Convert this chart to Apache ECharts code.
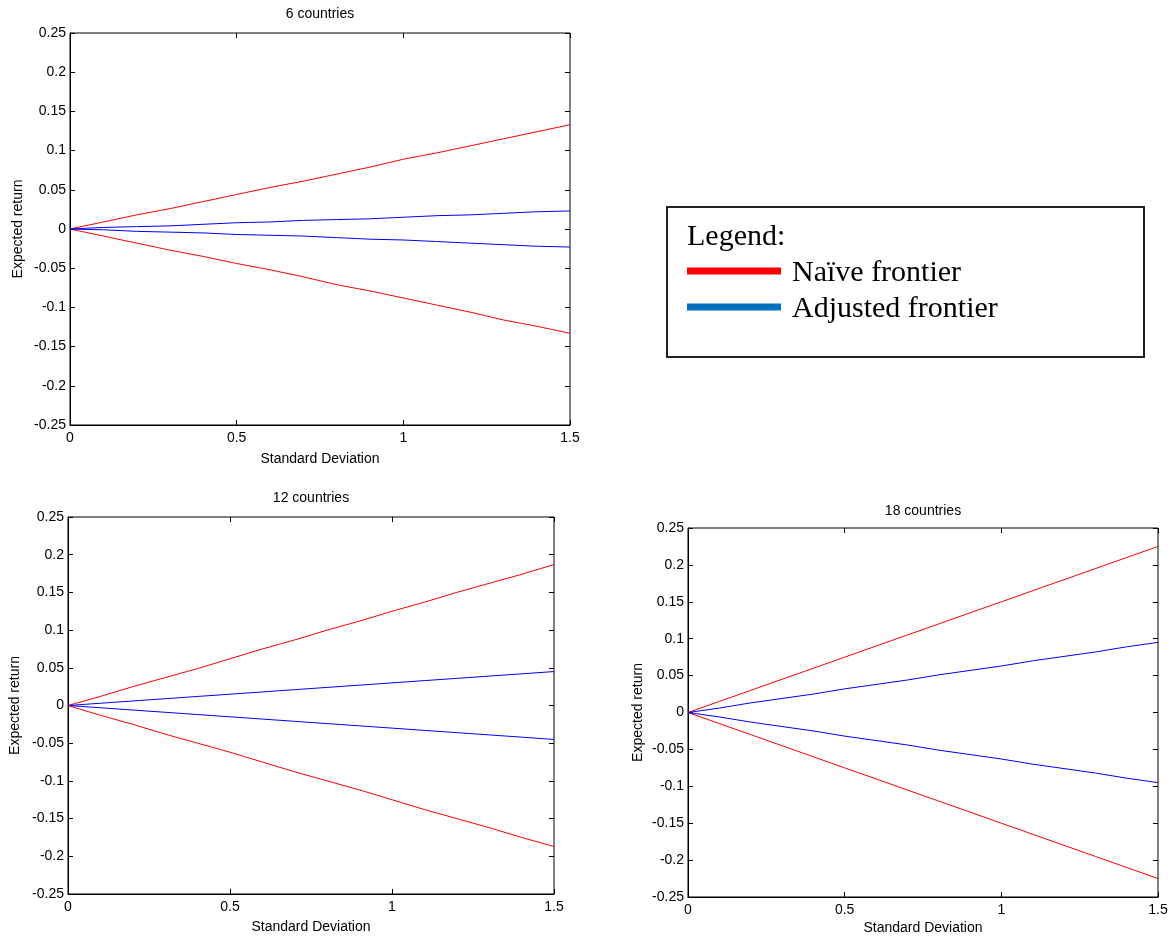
<!DOCTYPE html>
<html lang="en">
<head>
    <meta charset="UTF-8">
    <title>Frontiers</title>
    <script src="https://cdn.jsdelivr.net/npm/echarts@6/dist/echarts.min.js"></script>
    <style>
        body { margin: 0; background: #fff; }
    </style>
</head>
<body>
    <div id="main" style="width: 1171px;height:936px;"></div>

    <script>
        // standard deviation grid shared by every curve
        const sd = [0, 0.1, 0.2, 0.3, 0.4, 0.5, 0.6, 0.7, 0.8, 0.9, 1.0, 1.1, 1.2, 1.3, 1.4, 1.5]

        // 6 countries
        const naiveUp6 = [0, 0.009, 0.018, 0.026, 0.035, 0.044, 0.053, 0.061, 0.070, 0.079, 0.089, 0.097, 0.106, 0.115, 0.124, 0.133]
        const naiveLo6 = [0, -0.009, -0.018, -0.027, -0.035, -0.044, -0.052, -0.061, -0.071, -0.079, -0.088, -0.097, -0.106, -0.116, -0.124, -0.133]
        const adjUp6 = [0, 0.002, 0.003, 0.004, 0.006, 0.008, 0.009, 0.011, 0.012, 0.013, 0.015, 0.017, 0.018, 0.020, 0.022, 0.023]
        const adjLo6 = [0, -0.001, -0.003, -0.004, -0.005, -0.007, -0.008, -0.009, -0.011, -0.013, -0.014, -0.016, -0.018, -0.020, -0.022, -0.023]

        // 12 countries
        const naiveUp12 = [0, 0.012, 0.025, 0.037, 0.049, 0.062, 0.075, 0.087, 0.100, 0.112, 0.125, 0.137, 0.150, 0.162, 0.174, 0.187]
        const naiveLo12 = [0, -0.013, -0.025, -0.038, -0.050, -0.062, -0.075, -0.088, -0.100, -0.112, -0.125, -0.138, -0.150, -0.162, -0.175, -0.187]
        const adjUp12 = [0, 0.003, 0.006, 0.009, 0.012, 0.015, 0.018, 0.021, 0.024, 0.027, 0.030, 0.033, 0.036, 0.039, 0.042, 0.045]
        const adjLo12 = [0, -0.003, -0.006, -0.009, -0.012, -0.015, -0.018, -0.021, -0.024, -0.027, -0.030, -0.033, -0.036, -0.039, -0.042, -0.045]

        // 18 countries
        const naiveUp18 = [0, 0.015, 0.030, 0.045, 0.060, 0.075, 0.090, 0.105, 0.120, 0.135, 0.150, 0.165, 0.180, 0.195, 0.210, 0.225]
        const naiveLo18 = [0, -0.015, -0.030, -0.045, -0.060, -0.075, -0.090, -0.105, -0.120, -0.135, -0.150, -0.165, -0.180, -0.195, -0.210, -0.225]
        const adjUp18 = [0, 0.006, 0.013, 0.019, 0.025, 0.032, 0.038, 0.044, 0.051, 0.057, 0.063, 0.070, 0.076, 0.082, 0.089, 0.095]
        const adjLo18 = [0, -0.006, -0.013, -0.019, -0.025, -0.032, -0.038, -0.044, -0.051, -0.057, -0.063, -0.070, -0.076, -0.082, -0.089, -0.095]

        const panels = [
            { title: "6 countries", naive: [naiveUp6, naiveLo6], adj: [adjUp6, adjLo6],
              box: { left: 70, top: 33, width: 500, height: 392 }, titleY: 14, xNameGap: 27, yNameGap: 45 },
            { title: "12 countries", naive: [naiveUp12, naiveLo12], adj: [adjUp12, adjLo12],
              box: { left: 68, top: 517, width: 486, height: 377 }, titleY: 498, xNameGap: 26, yNameGap: 46 },
            { title: "18 countries", naive: [naiveUp18, naiveLo18], adj: [adjUp18, adjLo18],
              box: { left: 688, top: 528, width: 470, height: 369 }, titleY: 511, xNameGap: 24, yNameGap: 43 }
        ]

        const font = "Liberation Sans, Arial, sans-serif"
        const txt = { color: "#000", fontFamily: font, fontSize: 14 }
        const pairs = (ys) => sd.map((x, i) => [x, ys[i]])

        const grid = [], xAxis = [], yAxis = [], series = [], graphic = []

        panels.forEach((p, g) => {
            grid.push(Object.assign({ show: true, borderColor: "#000", borderWidth: 1, backgroundColor: "transparent" }, p.box))
            // bottom + top x axes (top one only carries the inward ticks)
            xAxis.push({
                type: "value", gridIndex: g, min: 0, max: 1.5, interval: 0.5,
                name: "Standard Deviation", nameLocation: "middle", nameGap: p.xNameGap, nameTextStyle: txt,
                axisLine: { onZero: false, lineStyle: { color: "#000" } },
                axisTick: { inside: true, length: 5, lineStyle: { color: "#000" } },
                axisLabel: Object.assign({ margin: 6 }, txt),
                splitLine: { show: false }
            })
            xAxis.push({
                type: "value", gridIndex: g, position: "top", min: 0, max: 1.5, interval: 0.5,
                axisLine: { show: false, onZero: false }, axisLabel: { show: false }, splitLine: { show: false },
                axisTick: { inside: true, length: 5, lineStyle: { color: "#000" } }
            })
            yAxis.push({
                type: "value", gridIndex: g, min: -0.25, max: 0.25, interval: 0.05,
                name: "Expected return", nameLocation: "middle", nameGap: p.yNameGap, nameTextStyle: txt,
                axisLine: { onZero: false, lineStyle: { color: "#000" } },
                axisTick: { inside: true, length: 5, lineStyle: { color: "#000" } },
                axisLabel: Object.assign({ margin: 4 }, txt),
                splitLine: { show: false }
            })
            yAxis.push({
                type: "value", gridIndex: g, position: "right", min: -0.25, max: 0.25, interval: 0.05,
                axisLine: { show: false, onZero: false }, axisLabel: { show: false }, splitLine: { show: false },
                axisTick: { inside: true, length: 5, lineStyle: { color: "#000" } }
            })

            const line = (ys, color) => ({
                type: "line", xAxisIndex: g * 2, yAxisIndex: g * 2, data: pairs(ys),
                showSymbol: false, symbol: "none", lineStyle: { color: color, width: 1 }
            })
            p.naive.forEach(ys => series.push(line(ys, "#ff0000")))
            p.adj.forEach(ys => series.push(line(ys, "#0000ff")))

            graphic.push({
                type: "text", x: p.box.left + p.box.width / 2, y: p.titleY,
                style: { text: p.title, align: "center", verticalAlign: "middle", fill: "#000", font: "14px " + font }
            })
        })

        // hand drawn legend box
        const serif = "30px Liberation Serif, Times New Roman, serif"
        graphic.push(
            { type: "rect", shape: { x: 667, y: 207, width: 477, height: 150 },
              style: { fill: "#fff", stroke: "#222", lineWidth: 2 } },
            { type: "text", x: 687, y: 237, style: { text: "Legend:", font: serif, fill: "#000", verticalAlign: "middle" } },
            { type: "line", shape: { x1: 687, y1: 271, x2: 781, y2: 271 }, style: { stroke: "#ff0000", lineWidth: 7 } },
            { type: "text", x: 792, y: 273, style: { text: "Naïve frontier", font: serif, fill: "#000", verticalAlign: "middle" } },
            { type: "line", shape: { x1: 687, y1: 307, x2: 781, y2: 307 }, style: { stroke: "#0070c0", lineWidth: 7 } },
            { type: "text", x: 792, y: 309, style: { text: "Adjusted frontier", font: serif, fill: "#000", verticalAlign: "middle" } }
        )

        const mychart = echarts.init(document.getElementById("main"))
        mychart.setOption({
            animation: false,
            backgroundColor: "#fff",
            grid: grid,
            xAxis: xAxis,
            yAxis: yAxis,
            series: series,
            graphic: graphic
        })
    </script>
</body>
</html>
